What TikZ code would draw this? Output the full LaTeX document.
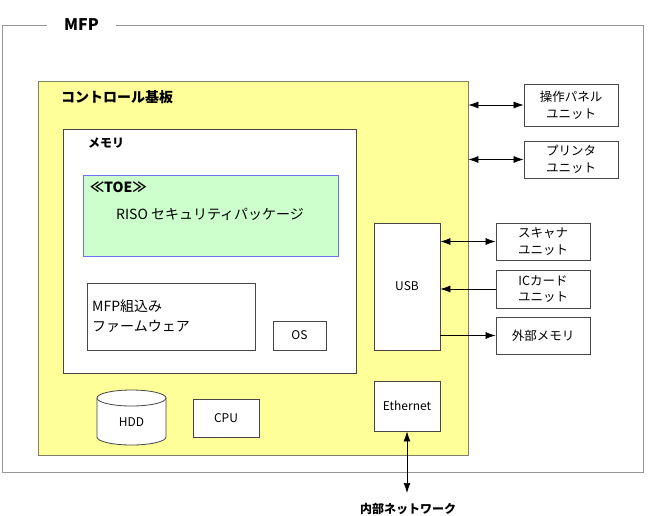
\documentclass[tikz,border=0pt]{standalone}
\usepackage{fontspec}
\setmainfont{Noto Sans CJK JP}
\usetikzlibrary{arrows.meta}
\definecolor{mfpline}{RGB}{150,150,150}
\definecolor{boardfill}{RGB}{255,255,153}
\definecolor{boardline}{RGB}{128,128,100}
\definecolor{toefill}{RGB}{204,255,204}
\definecolor{toeline}{RGB}{110,110,255}
\definecolor{boxline}{RGB}{70,70,70}
\begin{document}
\begin{tikzpicture}[x=1pt,y=-1pt,
  font=\fontsize{12}{14}\selectfont,
  box/.style={draw=boxline, line width=0.8pt, fill=white, inner sep=0pt},
  unitbox/.style={box, minimum width=94pt, align=center, font=\fontsize{12.5}{16.5}\selectfont},
  lbl/.style={anchor=west, inner sep=0pt},
  arr/.style={-{Latex[length=10pt,width=7pt]}, line width=0.7pt},
  darr/.style={{Latex[length=10pt,width=7pt]}-{Latex[length=10pt,width=7pt]}, line width=0.7pt}]
\useasboundingbox (0,0) rectangle (651,515);
% MFP outer frame
\node[draw=mfpline, line width=0.9pt, minimum width=641pt, minimum height=447pt, inner sep=0pt] (mfp) at (322.5,248.5) {};
\node[fill=white, minimum width=69pt, inner sep=2pt, font=\fontsize{16}{18}\selectfont\bfseries] (mfplbl) at (81.5,25) {MFP};
% control board
\node[draw=boardline, fill=boardfill, line width=0.8pt, minimum width=430pt, minimum height=374pt, inner sep=0pt] (board) at (253,268) {};
\node[lbl, font=\fontsize{14}{16}\selectfont\bfseries] (boardlbl) at (61,97) {コントロール基板};
% memory
\node[box, minimum width=293pt, minimum height=244pt] (mem) at (209.5,251) {};
\node[lbl, font=\fontsize{12}{16}\selectfont\bfseries] (memlbl) at (88,143) {メモリ};
% TOE
\node[draw=toeline, fill=toefill, line width=0.9pt, minimum width=255pt, minimum height=81pt, inner sep=0pt] (toe) at (210.5,215.5) {};
\node[lbl, font=\fontsize{14}{16}\selectfont\bfseries] (toelbl) at (90,187) {≪TOE≫};
\node[lbl, font=\fontsize{14}{16}\selectfont] (riso) at (116,214) {RISO セキュリティパッケージ};
% firmware, OS
\node[box, minimum width=168pt, minimum height=67pt] (fw) at (171,316.5) {};
\node[lbl, align=left, font=\fontsize{14}{20}\selectfont] (fwlbl) at (92,316) {MFP組込み\\ファームウェア};
\node[box, minimum width=53pt, minimum height=29pt] (os) at (299.5,335.5) {OS};
% HDD
\draw[draw=boxline, fill=white, line width=0.8pt] (97,398) -- (97,437) arc (180:0:34.5 and 8) -- (166,398);
\draw[draw=boxline, fill=white, line width=0.8pt] (131.5,398) ellipse (34.5 and 8);
\node[inner sep=0pt] (hdd) at (131.5,422) {HDD};
% CPU
\node[box, minimum width=66pt, minimum height=38pt] (cpu) at (226,418) {CPU};
% USB, Ethernet
\node[box, minimum width=66pt, minimum height=127pt] (usb) at (407,286.5) {USB};
\node[box, minimum width=66pt, minimum height=50pt] (eth) at (407,406) {Ethernet};
% external units
\node[unitbox, minimum height=42pt] (op) at (571,105) {操作パネル\\ユニット};
\node[unitbox, minimum height=37pt] (pr) at (571,159.5) {プリンタ\\ユニット};
\node[unitbox, minimum height=37pt] (sc) at (543,241.5) {スキャナ\\ユニット};
\node[unitbox, minimum height=38pt] (ic) at (543,289) {ICカード\\ユニット};
\node[unitbox, minimum height=37pt] (ext) at (543,335.5) {外部メモリ};
% connectors
\draw[darr] (op.west -| board.east) -- (op.west);
\draw[darr] (pr.west -| board.east) -- (pr.west);
\draw[darr] (sc.west -| usb.east) -- (sc.west);
\draw[arr] (ic.west) -- (ic.west -| usb.east);
\draw[arr] (ext.west -| usb.east) -- (ext.west);
\coordinate (netend) at (407,493);
\draw[darr] (eth.south) -- (netend);
\node[font=\fontsize{12}{14}\selectfont\bfseries, inner sep=0pt] (net) at (408,509) {内部ネットワーク};
\end{tikzpicture}
\end{document}
